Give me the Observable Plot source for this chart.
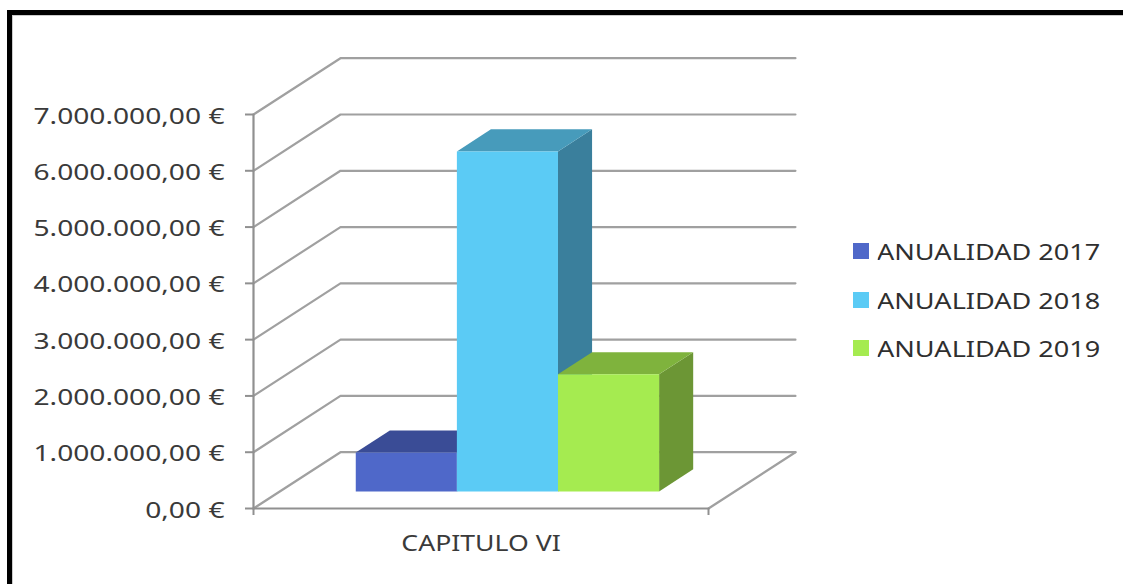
<!DOCTYPE html>
<html>
<head>
<meta charset="utf-8">
<script src="https://cdn.jsdelivr.net/npm/d3@7"></script>
<script src="https://cdn.jsdelivr.net/npm/@observablehq/plot@0.6"></script>
<style>
  html, body { margin: 0; padding: 0; background: #fff; overflow: hidden; }
  #stage { position: relative; width: 1123px; height: 584px; overflow: hidden; }
  #border { position: absolute; left: 7px; top: 10px; right: 0; bottom: 0; border-top: 5px solid #000; border-left: 5px solid #000; box-shadow: inset 1px 1px 0 #ccc; }
  #chart { position: absolute; left: 0; top: 0; }
  #legend { position: absolute; left: 853px; top: 227px; transform: scaleX(1.23); transform-origin: left top; }
  .lg-swatch { height: 48.5px; padding: 0 !important; margin: 0 !important; }
  .lg-swatch svg { margin-right: 6.5px !important; }
</style>
</head>
<body>
<div id="stage"><div id="border"></div><div id="chart"></div><div id="legend"></div></div>
<script>
const category = "CAPITULO VI";
const series = ["ANUALIDAD 2017", "ANUALIDAD 2018", "ANUALIDAD 2019"];
const values = [690000, 6040000, 2080000];
const frontColors = ["#4f68c9", "#5bcbf5", "#a5eb50"];
const topColors = ["#3a4c96", "#479bbb", "#7fb33d"];
const sideColors = ["#2f3d78", "#3a7f9c", "#6c9635"];
const yTicks = [0, 1000000, 2000000, 3000000, 4000000, 5000000, 6000000, 7000000];

// Category axis in bar widths: 3 bars with a 150% gap width.
const gap = 0.75;
const xStart = -gap, xEnd = series.length + gap;
// Oblique projection: one unit of depth moves right and up one axis step.
const depthX = 0.86, depthY = 1000000;
const barNear = 0.304, barFar = 0.696;
const P = (x, v, d, group) => ({x: x + depthX * d, y: v + depthY * d, group});

const grid = yTicks.flatMap((v) => [P(xStart, v, 0, v), P(xStart, v, 1, v), P(xEnd, v, 1, v)]);
const floorEdge = [P(xEnd, 0, 0, "f"), P(xEnd, 0, 1, "f")];
const frontEdge = [P(xStart, 0, 0, "b"), P(xEnd, 0, 0, "b")];
const leftEdge = [P(xStart, 0, 0, "l"), P(xStart, 7000000, 0, "l")];

const lineStyle = {x: "x", y: "y", z: "group", stroke: "#a0a0a0", strokeWidth: 2.2};
const bars = series.flatMap((name, i) => {
  const v = values[i], a = i, b = i + 1;
  const side = [P(b, 0, barNear), P(b, 0, barFar), P(b, v, barFar), P(b, v, barNear)];
  const top = [P(a, v, barNear), P(a, v, barFar), P(b, v, barFar), P(b, v, barNear)];
  const front = [P(a, 0, barNear), P(b, 0, barNear), P(b, v, barNear), P(a, v, barNear)].map((p) => ({...p, series: name}));
  return [
    Plot.line(side, {x: "x", y: "y", fill: sideColors[i]}),
    Plot.line(top, {x: "x", y: "y", fill: topColors[i]}),
    Plot.line(front, {x: "x", y: "y", fill: "series"})
  ];
});

const euro = d3.formatLocale({decimal: ",", thousands: ".", grouping: [3], currency: ["", " €"]}).format("$,.2f");

const plot = Plot.plot({
  width: 1123, height: 584,
  marginLeft: 253, marginRight: 415, marginTop: 114, marginBottom: 76,
  style: {fontFamily: "'Noto Sans', sans-serif", background: "transparent", overflow: "visible"},
  x: {domain: [xStart, xEnd]},
  y: {domain: [0, 7000000]},
  color: {domain: series, range: frontColors},
  marks: [
    Plot.line(grid, lineStyle),
    Plot.line(floorEdge, lineStyle),
    ...bars,
    Plot.line(leftEdge, {...lineStyle, stroke: "#909090"}),
    Plot.line(frontEdge, {...lineStyle, stroke: "#909090"}),
    Plot.axisY({ticks: yTicks, tickFormat: euro, tickSize: 8, tickPadding: 21, stroke: "#909090", strokeWidth: 2, label: null, fontSize: 22, fill: "#3a3a3a"}),
    Plot.axisX({ticks: [xStart, xEnd], tickFormat: () => "", tickSize: 7, stroke: "#909090", strokeWidth: 2, label: null}),
    Plot.axisX({ticks: [(xStart + xEnd) / 2], tickFormat: () => category, tickSize: 0, tickPadding: 27, label: null, fontSize: 22, fill: "#3a3a3a"})
  ]
});
document.getElementById("chart").append(plot);
document.getElementById("legend").append(plot.legend("color", {
  columns: 1, swatchWidth: 13, swatchHeight: 16, className: "lg",
  style: {fontFamily: "'Noto Sans', sans-serif", fontSize: "22px", color: "#2f2f2f", width: "220px"}
}));

// The reference's lettering is stretched sideways: widen the axis text to match.
plot.querySelectorAll("text").forEach((t) => {
  const w = t.getComputedTextLength();
  if (w > 0) {
    const isCategory = t.textContent === category;
    t.setAttribute("textLength", w * (isCategory ? 1.21 : 1.28));
    t.setAttribute("lengthAdjust", "spacingAndGlyphs");
    if (!isCategory) t.setAttribute("dy", "2");
  }
});
</script>
</body>
</html>
